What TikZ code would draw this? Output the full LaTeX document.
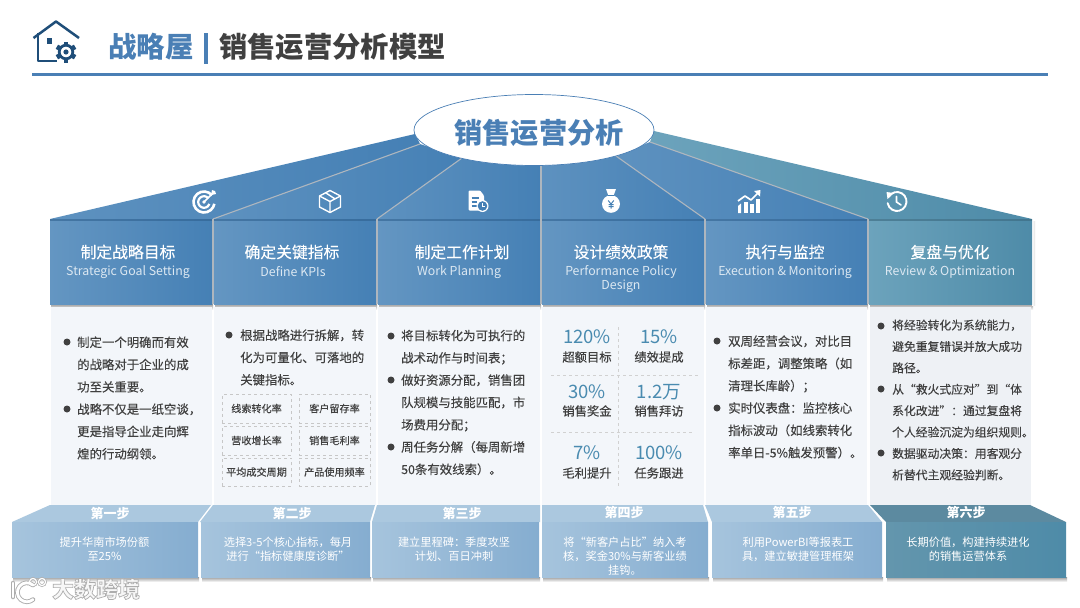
\documentclass[tikz,border=0pt]{standalone}
\usepackage{fontspec}
\setmainfont{Noto Sans CJK SC}
\newfontfamily\heavyfont[FakeBold=0.18]{Noto Sans CJK SC}
\usetikzlibrary{arrows.meta}
\definecolor{bluemain}{HTML}{4A7FB5}
\definecolor{navy}{HTML}{1F4E79}
\definecolor{bodyc}{HTML}{404040}
\definecolor{panelc}{HTML}{F3F6FA}
\definecolor{numc}{HTML}{4A8BB0}
\definecolor{sepc}{HTML}{AEB6BE}
\definecolor{hdL}{HTML}{6496C2}
\definecolor{hdR}{HTML}{4580B5}
\definecolor{tlL}{HTML}{6CA3BC}
\definecolor{tlR}{HTML}{4E8BA8}
\definecolor{frL}{HTML}{A6C4DD}
\definecolor{frR}{HTML}{85ADD0}
\definecolor{topc}{HTML}{ABC8DF}
\definecolor{subc}{HTML}{DCE8F2}
\tikzset{
  x=1pt,y=-1pt,
  bodytext/.style={anchor=west,inner sep=0pt,align=left,text=bodyc,font=\heavyfont\fontsize{12.4}{22.3}\selectfont},
  dotmark/.style={circle,fill=bodyc,inner sep=0pt,minimum size=7pt},
  hdtitle/.style={inner sep=0pt,text=white,font=\heavyfont\fontsize{15.8}{18}\selectfont},
  hdsub/.style={inner sep=0pt,text=subc,align=center,font=\fontsize{12.35}{14.2}\selectfont},
  steptitle/.style={inner sep=0pt,text=white,font=\fontsize{13}{14}\selectfont\bfseries},
  steptext/.style={inner sep=0pt,text=white,align=center,font=\fontsize{11.2}{14}\selectfont},
  kpi/.style={draw=black!22,dashed,line width=.5pt,inner sep=0pt,text=bodyc,font=\heavyfont\fontsize{10.1}{12}\selectfont},
  numtxt/.style={inner sep=0pt,text=numc,font=\fontsize{18.5}{20}\selectfont},
  numlab/.style={inner sep=0pt,text=bodyc,font=\heavyfont\fontsize{12.3}{14}\selectfont},
  sepline/.style={draw=sepc,line width=1.1pt},
  hdsh/.style={left color=hdL,right color=hdR},
  roofsh/.style={left color=hdL!80!hdR,right color=hdR},
  tlsh/.style={left color=tlL,right color=tlR},
  frsh/.style={left color=frL,right color=frR},
  dashdiv/.style={draw=black!18,dashed,line width=.6pt},
}
\begin{document}
\begin{tikzpicture}
\useasboundingbox (0,0) rectangle (1080,608);
\fill[white] (0,0) rectangle (1080,608);

% ---------- header ----------
\begin{scope}[draw=navy,line width=2.5pt,line join=round]
  \draw (33.5,38) -- (56,21.5) -- (79,38);
  \draw (38,33) -- (38,61) -- (57,61);
  \fill[navy] (46.5,38) rectangle (52.4,43.5);
  \begin{scope}[shift={(66,52)}]
    \foreach \a in {0,60,...,300}{\fill[navy,rotate=\a] (-2.4,-10.5) rectangle (2.4,-6);}
    \draw[line width=2.8pt] (0,0) circle (6.8pt);
    \fill[navy] (0,0) circle (2.6pt);
  \end{scope}
\end{scope}
\node[inner sep=0pt,anchor=west,text=bluemain,font=\fontsize{28.5}{30}\selectfont\bfseries] (ttlA) at (108,47) {战略屋};
\node[inner sep=0pt,anchor=west,text=bodyc,font=\fontsize{28.3}{30}\selectfont\bfseries] (ttlB) at (219,47) {销售运营分析模型};
\fill[bluemain] (204,33) rectangle (207.5,64);
\fill[bluemain] (32,72.5) rectangle (1048,75.5);

% ---------- roof ----------
\shade[roofsh] (50,219) -- (415,134) -- (420,144) -- (213,219) -- cycle;
\shade[roofsh] (213,219) -- (420,144) -- (462,158) -- (377,219) -- cycle;
\shade[roofsh] (377,219) -- (462,158) -- (541,165) -- (541,219) -- cycle;
\shade[roofsh] (541,219) -- (541,165) -- (616,156) -- (705,219) -- cycle;
\shade[roofsh] (705,219) -- (616,156) -- (650,142) -- (868,219) -- cycle;
\shade[tlsh]   (868,219) -- (650,142) -- (654,131) -- (1032,219) -- cycle;
\draw[sepline] (213,219) -- (420,144);
\draw[sepline] (377,219) -- (462,158);
\draw[sepline] (541,219) -- (541,165);
\draw[sepline] (705,219) -- (616,156);
\draw[sepline] (868,219) -- (650,142);
\fill[white] (534,130) ellipse [x radius=120pt,y radius=35.5pt];
\draw[bluemain,line width=.7pt] (534,130) ellipse [x radius=120pt,y radius=35.5pt];
\node[inner sep=0pt,text=bluemain,font=\fontsize{28.2}{30}\selectfont\bfseries] (hubtxt) at (539,133) {销售运营分析};

% ---------- column shadows + headers ----------
\foreach \l/\r in {50/212,214/376,378/540,542/704,706/867,869/1032}{
  \shade[top color=black!38,bottom color=white] (\l+1,304) rectangle (\r+1,310);
}
\shade[right color=black!12,left color=white] (1032,221) rectangle (1035,305);
\shade[hdsh] (50,219) rectangle (212,304);
\shade[hdsh] (214,219) rectangle (376,304);
\shade[hdsh] (378,219) rectangle (540,304);
\shade[hdsh] (542,219) rectangle (704,304);
\shade[hdsh] (706,219) rectangle (867,304);
\shade[tlsh] (869,219) rectangle (1032,304);
\fill[sepc] (212,219) rectangle (214,304);
\fill[sepc] (376,219) rectangle (378,304);
\fill[sepc] (540,219) rectangle (542,304);
\fill[sepc] (704,219) rectangle (706,304);
\fill[sepc] (867,219) rectangle (869,304);
\draw[navy!70!bluemain,line width=1.4pt,opacity=.55] (50,220) -- (212,220) (214,220) -- (376,220) (378,220) -- (540,220) (542,220) -- (704,220) (706,220) -- (867,220);
\draw[tlR!75!black,line width=1.4pt,opacity=.6] (869,220) -- (1032,220);

\node[hdtitle] (h1) at (128,252) {制定战略目标};
\node[hdsub]   (s1) at (128,272) {Strategic Goal Setting};
\node[hdtitle] (h2) at (292,252) {确定关键指标};
\node[hdsub]   (s2) at (293,272) {Define KPIs};
\node[hdtitle] (h3) at (462,252) {制定工作计划};
\node[hdsub]   (s3) at (459,272) {Work Planning};
\node[hdtitle] (h4) at (621,252) {设计绩效政策};
\node[hdsub]   (s4) at (621,279) {Performance Policy\\Design};
\node[hdtitle] (h5) at (785,252) {执行与监控};
\node[hdsub]   (s5) at (785,272) {Execution \& Monitoring};
\node[hdtitle] (h6) at (950,252) {复盘与优化};
\node[hdsub]   (s6) at (950,272) {Review \& Optimization};

% ---------- icons ----------
\begin{scope}[shift={(204,202)}]
  \draw[white,line width=2.6pt] (0,0) ++(40:10.5pt) arc[start angle=40,end angle=350,radius=10.5pt];
  \draw[white,line width=2.2pt] (0,0) ++(40:5.8pt) arc[start angle=40,end angle=340,radius=5.8pt];
  \draw[white,line width=1.6pt] (0,0) -- (10,-10);
  \fill[white] (7,-7) -- (8,-12) -- (11,-11) -- (12,-8) -- cycle;
  \fill[white] (0,0) circle (1.8pt);
\end{scope}
\begin{scope}[shift={(330,201.5)},draw=white,line width=1.4pt,line join=round]
  \draw (0,-11) -- (10.5,-5.5) -- (10.5,5.5) -- (0,11) -- (-10.5,5.5) -- (-10.5,-5.5) -- cycle;
  \draw (-10.5,-5.5) -- (0,0) -- (10.5,-5.5) (0,0) -- (0,11) (-4,-8.5) -- (5,-2.6);
\end{scope}
\begin{scope}[shift={(477,200.5)}]
  \fill[white,rounded corners=1pt] (-8.5,-10) -- (3,-10) -- (7,-5) -- (7,10) -- (-8.5,10) -- cycle;
  \draw[hdR,line width=1.2pt] (-5.5,-2.5) -- (2,-2.5) (-5.5,1.5) -- (0,1.5) (-5.5,5.5) -- (0,5.5);
  \fill[white] (5.5,5.5) circle (6pt);
  \fill[hdR] (5.5,5.5) circle (4.8pt);
  \draw[white,line width=.9pt] (5.5,2.7) -- (5.5,5.7) -- (8,5.7);
\end{scope}
\begin{scope}[shift={(611,201)}]
  \fill[white] (-5,-12) -- (5,-12) -- (2.8,-6) -- (-2.8,-6) -- cycle;
  \fill[white] (0,3) ellipse [x radius=9pt,y radius=8.8pt];
  \draw[hdR,line width=.9pt] (-3,-5.6) -- (3,-5.6);
  \draw[hdR,line width=1pt] (-2.8,-.5) -- (0,3) -- (2.8,-.5) (0,3) -- (0,7.5) (-2.5,3.6) -- (2.5,3.6) (-2.5,5.6) -- (2.5,5.6);
\end{scope}
\begin{scope}[shift={(749,202)}]
  \fill[white] (-11,11) -- (-11,4) -- (-8,1.5) -- (-8,11) -- cycle;
  \fill[white] (-5.5,11) rectangle (-1.5,0);
  \fill[white] (1,11) rectangle (5,2);
  \fill[white] (7,11) rectangle (11,-3);
  \draw[white,line width=1.7pt,line join=round] (-11,-1) -- (-4,-6) -- (2,-2) -- (9,-9);
  \fill[white] (5,-11) -- (11.5,-12) -- (11,-5.5) -- cycle;
\end{scope}
\begin{scope}[shift={(897,201.5)},draw=white,line cap=round]
  \draw[line width=1.9pt] (0,0) ++(150:9.5pt) arc[start angle=150,end angle=-170,radius=9.5pt];
  \fill[white] (-10.5,-9.5) -- (-3.5,-8.5) -- (-9.5,-2.5) -- cycle;
  \draw[line width=1.6pt] (-.5,-5) -- (-.5,.5) -- (4,3.5);
\end{scope}

% ---------- content panels ----------
\fill[panelc] (50.5,307) rectangle (211.5,505);
\fill[panelc] (214,307) rectangle (375.5,505);
\fill[panelc] (378,307) rectangle (539.5,505);
\fill[panelc] (542,307) rectangle (703.5,505);
\fill[panelc] (706,307) rectangle (867,505);
\fill[panelc!98!black] (869.5,307) rectangle (1031,505);

% col 1
\node[dotmark] (d1a) at (67,342) {};
\node[dotmark] (d1b) at (67,409) {};
\node[bodytext] (t1) at (77,398) {制定一个明确而有效\\的战略对于企业的成\\功至关重要。\\战略不仅是一纸空谈，\\更是指导企业走向辉\\煌的行动纲领。};
% col 2
\node[dotmark] (d2a) at (229,335) {};
\node[bodytext] (t2) at (240,357.5) {根据战略进行拆解，转\\化为可量化、可落地的\\关键指标。};
\node[kpi,minimum width=69pt,minimum height=28.5pt] (k1) at (256.5,408.5) {线索转化率};
\node[kpi,minimum width=71pt,minimum height=28.5pt] (k2) at (334.5,408.5) {客户留存率};
\node[kpi,minimum width=69pt,minimum height=28.5pt] (k3) at (256.5,440.5) {营收增长率};
\node[kpi,minimum width=71pt,minimum height=28.5pt] (k4) at (334.5,440.5) {销售毛利率};
\node[kpi,minimum width=69pt,minimum height=28.5pt] (k5) at (256.5,472) {平均成交周期};
\node[kpi,minimum width=71pt,minimum height=28.5pt] (k6) at (334.5,472) {产品使用频率};
% col 3
\node[dotmark] (d3a) at (391,336) {};
\node[dotmark] (d3b) at (391,380) {};
\node[dotmark] (d3c) at (391,447) {};
\node[bodytext] (t3) at (401,402.5) {将目标转化为可执行的\\战术动作与时间表；\\做好资源分配，销售团\\队规模与技能匹配，市\\场费用分配；\\周任务分解（每周新增\\50条有效线索）。};
% col 4
\draw[dashdiv] (618,327) -- (618,486);
\draw[dashdiv] (551,375) -- (699,375);
\draw[dashdiv] (551,432) -- (693,432);
\node[numtxt] (n1) at (587,337) {120\%};
\node[numlab] (l1) at (587,357) {超额目标};
\node[numtxt] (n2) at (659,337) {15\%};
\node[numlab] (l2) at (659,357) {绩效提成};
\node[numtxt] (n3) at (587,392) {30\%};
\node[numlab] (l3) at (587,411) {销售奖金};
\node[numtxt] (n4) at (659,392) {1.2万};
\node[numlab] (l4) at (659,411) {销售拜访};
\node[numtxt] (n5) at (587,453) {7\%};
\node[numlab] (l5) at (587,473) {毛利提升};
\node[numtxt] (n6) at (659,453) {100\%};
\node[numlab] (l6) at (659,473) {任务跟进};
% col 5
\node[dotmark] (d5a) at (717,341) {};
\node[dotmark] (d5b) at (717,408) {};
\node[bodytext] (t5) at (728,397) {双周经营会议，对比目\\标差距，调整策略（如\\清理长库龄）；\\实时仪表盘：监控核心\\指标波动（如线索转化\\率单日-5\%触发预警）。};
% col 6
\node[dotmark] (d6a) at (881,326) {};
\node[dotmark] (d6b) at (881,389) {};
\node[dotmark] (d6c) at (881,453) {};
\node[bodytext,font=\heavyfont\fontsize{11.8}{21.4}\selectfont] (t6) at (892,400) {将经验转化为系统能力，\\避免重复错误并放大成功\\路径。\\从“救火式应对”到“体\\系化改进”：通过复盘将\\个人经验沉淀为组织规则。\\数据驱动决策：用客观分\\析替代主观经验判断。};

% ---------- base steps ----------
\foreach \l/\r in {12/198,201/370,372/539,542/708,712/882,886/1066}{
  \shade[top color=black!38,bottom color=white] (\l+1,577) rectangle (\r+1,582);
}
\fill[topc] (50,505) -- (211,505) -- (198,522) -- (12,522) -- cycle;
\fill[topc] (213,505) -- (375,505) -- (370,522) -- (200,522) -- cycle;
\fill[topc] (377,505) -- (540,505) -- (540,522) -- (372,522) -- cycle;
\fill[topc] (542,505) -- (703,505) -- (708,522) -- (542,522) -- cycle;
\fill[topc] (705,505) -- (868,505) -- (882,522) -- (712,522) -- cycle;
\fill[tlL!85!black] (870,505) -- (1030,505) -- (1066,522) -- (886,522) -- cycle;
\shade[frsh] (12,522) rectangle (198,577);
\shade[frsh] (201,522) rectangle (370,577);
\shade[frsh] (372,522) rectangle (539,577);
\shade[frsh] (542,522) rectangle (708,577);
\shade[frsh] (712,522) rectangle (882,577);
\shade[left color=tlL!92!black,right color=tlR] (886,522) rectangle (1066,577);

\node[steptitle] (p1) at (110,513) {第一步};
\node[steptitle] (p2) at (292,513) {第二步};
\node[steptitle] (p3) at (462,513) {第三步};
\node[steptitle] (p4) at (624,512) {第四步};
\node[steptitle] (p5) at (792,512) {第五步};
\node[steptitle] (p6) at (966,512) {第六步};
\node[steptext] (q1) at (104.5,549) {提升华南市场份额\\至25\%};
\node[steptext] (q2) at (288,549) {选择3-5个核心指标，每月\\进行“指标健康度诊断”};
\node[steptext] (q3) at (454,549) {建立里程碑：季度攻坚\\计划、百日冲刺};
\node[steptext] (q4) at (625,556) {将“新客户占比”纳入考\\核，奖金30\%与新客业绩\\挂钩。};
\node[steptext] (q5) at (798,549.5) {利用PowerBI等报表工\\具，建立敏捷管理框架};
\node[steptext] (q6) at (968,549.5) {长期价值，构建持续进化\\的销售运营体系};

% ---------- watermark ----------
\begin{scope}[line cap=round]
  \draw[black!32,line width=4.6pt] (13,583) -- (13,597);
  \draw[black!32,line width=4.6pt] (33,585) arc[start angle=50,end angle=310,radius=9.5pt];
  \draw[black!32,line width=2.6pt] (33,582) circle (3.6pt) (42,582) circle (3.6pt);
  \draw[white,line width=2.8pt] (13,583) -- (13,597);
  \draw[white,line width=2.8pt] (33,585) arc[start angle=50,end angle=310,radius=9.5pt];
  \draw[white,line width=1.2pt] (33,582) circle (3.6pt) (42,582) circle (3.6pt);
\end{scope}
\node[inner sep=0pt,text=white,font=\fontsize{22}{24}\selectfont\bfseries] (wm) at (96,589) {\special{pdf:code q 2 Tr 0.7 w 0.68 G 0.97 g}大数跨境\special{pdf:code Q}};
\end{tikzpicture}
\end{document}
